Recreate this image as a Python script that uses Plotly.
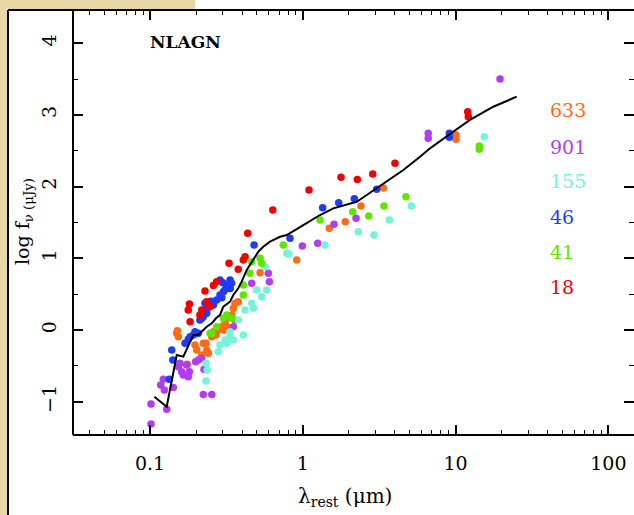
import plotly.graph_objects as go

# ---- data (wavelength in micron, log f_nu in microJy) ----
red_lam = [0.436, 0.329, 0.378, 0.408, 0.419, 0.273, 0.229, 0.235, 0.181, 0.178, 0.218, 0.183, 0.212, 0.247,
           0.26, 0.636, 1.098, 1.778, 2.274, 2.868, 4.01, 12.0, 12.1]
red_y = [1.349, 0.930, 0.847, 0.976, 1.022, 0.674, 0.544, 0.395, 0.363, 0.279, 0.279, 0.116, 0.209, 0.325,
         0.62, 1.674, 1.953, 2.13, 2.10, 2.176, 2.325, 3.045, 2.975]

blue_lam = [0.1387, 0.141, 0.1337, 0.1694, 0.178, 0.192, 0.207, 0.218, 0.235, 0.26, 0.229,
            0.48, 0.287, 0.334, 0.342, 0.318, 0.302, 0.287, 0.273, 0.229, 0.223, 0.212, 0.197, 0.183,
            0.31, 0.325, 0.295, 0.25, 0.30, 0.335,
            0.8245, 1.349, 1.718, 2.173, 3.046, 9.10, 9.10]
blue_y = [-0.279, -0.418, -0.688, -0.185, -0.13, -0.07, -0.046, 0.163, 0.233, 0.349, 0.372,
          1.185, 0.697, 0.697, 0.651, 0.604, 0.534, 0.488, 0.418, 0.279, 0.185, 0.139, -0.024, -0.093,
          0.56, 0.63, 0.45, 0.40, 0.66, 0.58,
          1.279, 1.706, 1.775, 1.831, 1.962, 2.743, 2.688]

orange_lam = [0.1496, 0.1532, 0.151, 0.1754, 0.197, 0.2022, 0.2233, 0.235, 0.241, 0.218, 0.2325, 0.26, 0.28,
              0.306, 0.318, 0.27, 0.525, 0.36, 0.378, 0.351, 0.342, 0.36, 0.31, 0.2945, 0.2535,
              0.912, 1.491, 1.897, 2.404, 3.365, 10.06, 10.06]
orange_y = [-0.046, -0.093, -0.01, -0.478, -0.209, -0.279, -0.185, -0.279, -0.325, -0.349, -0.185, -0.024, 0.0,
            0.0, 0.046, -0.07, 0.80, 0.372, 0.395, 0.303, 0.209, 0.139, 0.116, 0.046, -0.093,
            0.976, 1.418, 1.51, 1.729, 1.98, 2.72, 2.66]

green_lam = [0.2535, 0.273, 0.318, 0.342, 0.745, 0.525, 0.463, 0.538, 0.451, 0.408, 0.408, 0.302, 0.247,
             1.296, 2.121, 2.70, 3.398, 4.73, 14.29, 14.29]
green_y = [-0.046, 0.046, 0.209, 0.163, 1.185, 1.00, 0.953, 0.93, 0.791, 0.628, 0.488, 0.163, -0.046,
           1.534, 1.65, 1.59, 1.729, 1.859, 2.566, 2.52]

purple_lam = [0.1015, 0.1015, 0.1286, 0.1222, 0.1175, 0.124, 0.142, 0.1532, 0.1612, 0.1652, 0.178, 0.181,
              0.157, 0.1738, 0.199, 0.207, 0.218, 0.2256, 0.2233, 0.2535,
              0.5945, 0.604, 0.463, 0.235, 0.351,
              0.9925, 1.252, 1.60, 2.23, 6.62, 6.62, 19.53]
purple_y = [-1.311, -1.03, -1.106, -0.688, -0.767, -0.837, -0.80, -0.512, -0.582, -0.628, -0.651, -0.582,
            -0.464, -0.488, -0.442, -0.418, -0.395, -0.548, -0.90, -0.90,
            0.791, 0.674, 0.651, 0.279, 0.046,
            1.172, 1.209, 1.474, 1.558, 2.743, 2.674, 3.50]

cyan_lam = [0.2325, 0.237, 0.2325, 0.28, 0.31, 0.334, 0.351, 0.318, 0.287,
            0.785, 0.566, 0.499, 0.538, 0.5805, 0.463, 0.4186, 0.4745, 0.378, 0.334, 0.408,
            0.8125, 1.397, 2.307, 2.924, 3.683, 5.13, 15.4]
cyan_y = [-0.464, -0.558, -0.711, -0.303, -0.139, -0.093, -0.139, -0.185, -0.209,
          1.07, 0.883, 0.558, 0.464, 0.558, 0.372, 0.279, 0.303, 0.139, -0.024, -0.07,
          1.06, 1.185, 1.371, 1.325, 1.534, 1.729, 2.696]

tmpl_lam = [0.1068, 0.1286, 0.1496, 0.1652, 0.181, 0.192, 0.207, 0.235, 0.2535, 0.2703, 0.287, 0.302, 0.334,
            0.351, 0.378, 0.398, 0.4295, 0.463, 0.5115, 0.551, 0.61, 0.71, 0.785, 1.0075, 1.296, 1.584,
            1.797, 2.253, 2.62, 3.365, 4.55, 5.85, 6.8, 9.19, 12.42, 17.65, 25.1]
tmpl_y = [-0.93, -1.07, -0.349, -0.372, -0.185, -0.07, -0.07, 0.046, 0.093, 0.163, 0.209, 0.325, 0.395,
          0.488, 0.582, 0.674, 0.837, 0.953, 1.092, 1.162, 1.232, 1.301, 1.325, 1.464, 1.604, 1.697,
          1.729, 1.789, 1.883, 2.046, 2.231, 2.417, 2.534, 2.734, 2.93, 3.114, 3.254]

legend_labels = ["633", "901", "155", "46", "41", "18"]
legend_colors = ["#ff6a14", "#b23cf0", "#74f5d8", "#1f3cf5", "#5ee600", "#f50000"]

series = [
    (orange_lam, orange_y, legend_colors[0]),
    (purple_lam, purple_y, legend_colors[1]),
    (cyan_lam, cyan_y, legend_colors[2]),
    (green_lam, green_y, legend_colors[4]),
    (blue_lam, blue_y, legend_colors[3]),
    (red_lam, red_y, legend_colors[5]),
]

FONT = "DejaVu Serif"
W, H = 634, 515
L, R, T, B = 73, 0, 10, 80
pw, ph = W - L - R, H - T - B


def px(x):
    return (x - L) / pw


def py(y):
    return (H - B - y) / ph


fig = go.Figure()
for lam, yy, col in series:
    fig.add_trace(go.Scatter(x=lam, y=yy, mode="markers",
                             marker=dict(color=col, size=7.5, line=dict(width=0)),
                             showlegend=False, hoverinfo="skip"))
fig.add_trace(go.Scatter(x=tmpl_lam, y=tmpl_y, mode="lines",
                         line=dict(color="black", width=2), showlegend=False, hoverinfo="skip"))

annotations = []
leg_y = [110, 147, 181, 217, 252, 287]
for lab, col, yy in zip(legend_labels, legend_colors, leg_y):
    annotations.append(dict(x=px(548), y=py(yy), xref="paper", yref="paper", text=lab, showarrow=False,
                            xanchor="left", yanchor="middle", font=dict(family=FONT, size=19, color=col)))
annotations.append(dict(x=px(148), y=py(42), xref="paper", yref="paper", text="<b>NLAGN</b>", showarrow=False,
                        xanchor="left", yanchor="middle", font=dict(family=FONT, size=17, color="black")))
annotations.append(dict(x=px(345), y=py(497), xref="paper", yref="paper",
                        text="λ<sub>rest</sub> (μm)", showarrow=False,
                        xanchor="center", yanchor="middle", font=dict(family=FONT, size=20, color="black")))
annotations.append(dict(x=px(24), y=py(222), xref="paper", yref="paper",
                        text="log f<sub>ν (μJy)</sub>", showarrow=False, textangle=-90,
                        xanchor="center", yanchor="middle", font=dict(family=FONT, size=19, color="black")))

shapes = [
    # beige frame background
    dict(type="rect", xref="paper", yref="paper", x0=px(0), x1=px(7), y0=py(H), y1=py(0),
         fillcolor="#ead7a6", line=dict(width=0), layer="below"),
    dict(type="rect", xref="paper", yref="paper", x0=px(0), x1=px(195), y0=py(9), y1=py(0),
         fillcolor="#ead7a6", line=dict(width=0), layer="below"),
    # frame lines
    dict(type="line", xref="paper", yref="paper", x0=px(8), x1=px(8), y0=py(H), y1=py(T),
         line=dict(color="black", width=2)),
    dict(type="line", xref="paper", yref="paper", x0=px(8), x1=1.0, y0=1, y1=1,
         line=dict(color="black", width=2)),
    # plot axes lines
    dict(type="line", xref="paper", yref="paper", x0=0, x1=0, y0=0, y1=1, line=dict(color="black", width=2)),
    dict(type="line", xref="paper", yref="paper", x0=0, x1=1, y0=0, y1=0, line=dict(color="black", width=2)),
]

fig.update_layout(
    width=W, height=H, margin=dict(l=L, r=R, t=T, b=B, pad=0),
    paper_bgcolor="white", plot_bgcolor="white",
    annotations=annotations, shapes=shapes,
    font=dict(family=FONT, color="black"),
)
fig.update_xaxes(type="log", range=[-1.504, 2.1675], showgrid=False, zeroline=False,
                 showline=False, mirror="allticks",
                 ticks="inside", ticklen=10, tickwidth=1.5, tickcolor="black",
                 tickvals=[0.1, 1, 10, 100], ticktext=["0.1", "1", "10", "100"],
                 tickfont=dict(family=FONT, size=19), ticklabelstandoff=15,
                 minor=dict(ticks="inside", ticklen=5, tickwidth=1.2, tickcolor="black", dtick="D1", showgrid=False))
fig.update_yaxes(range=[-1.464, 4.463], showgrid=False, zeroline=False,
                 showline=False, mirror="allticks",
                 ticks="inside", ticklen=10, tickwidth=1.5, tickcolor="black",
                 tickvals=[-1, 0, 1, 2, 3, 4], ticktext=["−1", "0", "1", "2", "3", "4"],
                 tickangle=-90, tickfont=dict(family=FONT, size=19), ticklabelstandoff=12,
                 minor=dict(ticks="inside", ticklen=5, tickwidth=1.2, tickcolor="black", dtick=0.5, showgrid=False))

fig.write_html("out.html")
